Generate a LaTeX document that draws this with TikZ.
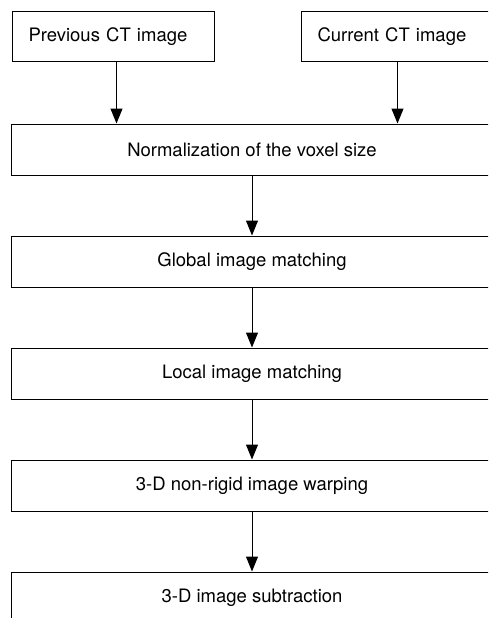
\documentclass[tikz,border=0pt]{standalone}
\usepackage{fontspec}
\setmainfont{TeX Gyre Heros}
\usetikzlibrary{arrows.meta}
\tikzset{
  stepbox/.style={draw, line width=1pt, minimum height=51pt, inner sep=0pt,
    font=\fontsize{18.5}{22}\selectfont},
  flow/.style={-{Triangle[length=15pt,width=12pt]}, line width=1pt},
}
\begin{document}
\begin{tikzpicture}[x=1pt, y=-1pt]
    \clip (0, 0) rectangle (488, 618);

    \node[stepbox, minimum width=202pt, minimum height=50pt, anchor=west, text width=170pt] (prev) at (12, 37) {Previous CT image};
    \node[stepbox, minimum width=192pt, minimum height=50pt, anchor=west, text width=160pt] (curr) at (301, 37) {Current CT image};

    \node[stepbox, minimum width=482pt] (norm) at (252, 149.5) {Normalization of the voxel size};
    \node[stepbox, minimum width=482pt] (glob) at (252, 261.5) {Global image matching};
    \node[stepbox, minimum width=482pt] (loc) at (252, 373.5) {Local image matching};
    \node[stepbox, minimum width=482pt] (warp) at (252, 485.5) {3-D non-rigid image warping};
    \node[stepbox, minimum width=482pt] (sub) at (252, 597.5) {3-D image subtraction};

    \draw[flow] ([xshift=3pt]prev.south) -- ([xshift=3pt]prev.south |- norm.north);
    \draw[flow] (curr.south) -- (curr.south |- norm.north);
    \draw[flow] (norm) -- (glob);
    \draw[flow] (glob) -- (loc);
    \draw[flow] (loc) -- (warp);
    \draw[flow] (warp) -- (sub);
\end{tikzpicture}
\end{document}
